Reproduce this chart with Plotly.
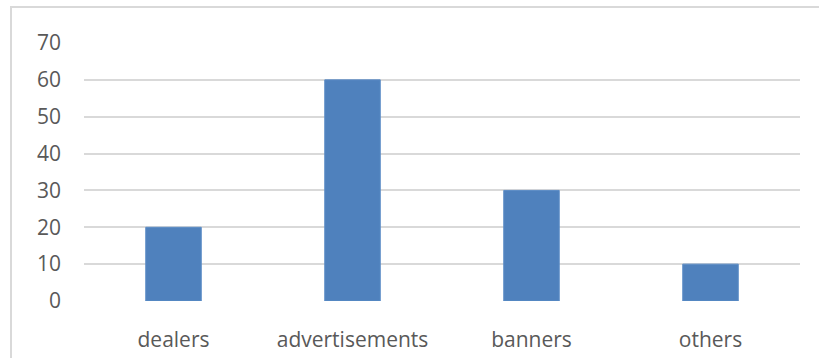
import plotly.graph_objects as go

categories = ["dealers", "advertisements", "banners", "others"]
values = [20, 60, 30, 10]
y_ticks = [0, 10, 20, 30, 40, 50, 60, 70]

W, H = 819, 358
L, R, T, B = 84, 19, 43, 57
pw, ph = W - L - R, H - T - B

fig = go.Figure(
    go.Bar(
        x=categories,
        y=values,
        marker=dict(color="#4F81BD", line=dict(color="#5B8CC6", width=1)),
        width=0.31,
    )
)

# chart-area frame (clipped at right and bottom edges of the page)
fig.add_shape(
    type="rect", xref="paper", yref="paper",
    x0=(11 - L) / pw, x1=(W + 5 - L) / pw,
    y0=-(H + 5 - T - ph) / ph, y1=(H - B - 7) / ph,
    line=dict(color="#D9D9D9", width=2), layer="below",
)

fig.update_layout(
    width=W, height=H,
    margin=dict(l=L, r=R, t=T, b=B, autoexpand=False),
    paper_bgcolor="white", plot_bgcolor="white",
    font=dict(family="Open Sans", size=21, color="#595959"),
    showlegend=False,
    xaxis=dict(showgrid=False, showline=False, ticks="", ticklabelstandoff=24,
               automargin=False),
    yaxis=dict(
        range=[0, 70], tickvals=y_ticks, showgrid=True,
        gridcolor="#D9D9D9", gridwidth=1.5, zeroline=False,
        showline=False, ticks="", ticklabelstandoff=22, automargin=False,
    ),
)

fig.write_html("out.html")
